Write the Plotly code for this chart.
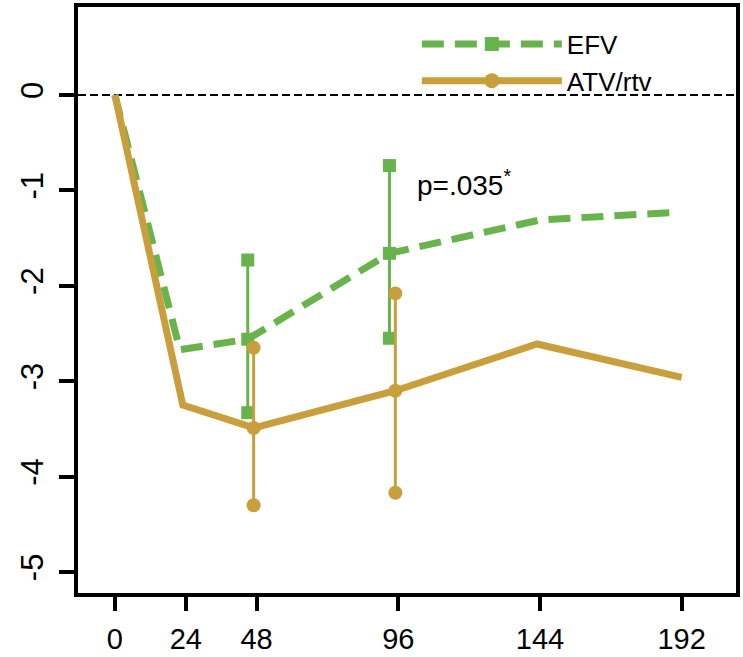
import plotly.graph_objects as go

# ---- data ----
x_ticks = [0, 24, 48, 96, 144, 192]
y_ticks = [0, -1, -2, -3, -4, -5]

efv_x = [0, 22, 45, 93, 144, 190]
efv_y = [0, -2.67, -2.56, -1.66, -1.31, -1.23]

atv_x = [0, 23, 47, 95, 143, 192]
atv_y = [0, -3.25, -3.49, -3.10, -2.61, -2.96]

# error bars (x, low, mid, high)
efv_err_x = [45, 93]
efv_err_low = [-3.33, -2.55]
efv_err_mid = [-2.56, -1.66]
efv_err_high = [-1.73, -0.74]

atv_err_x = [47, 95]
atv_err_low = [-4.30, -4.17]
atv_err_mid = [-3.49, -3.10]
atv_err_high = [-2.65, -2.08]

series_names = ["EFV", "ATV/rtv"]
p_label = "p=.035<sup>*</sup>"
p_pos = (101.5, -0.92)

GREEN = "#69b34c"
GOLD = "#c89f3c"
FONT = "Liberation Sans, Arial, sans-serif"
DASH = "22px,11px"

fig = go.Figure()

# legend entries (no data points, legend only)
fig.add_trace(go.Scatter(
    x=[None], y=[None], mode="lines+markers", name=series_names[0],
    line=dict(color=GREEN, width=7, dash=DASH),
    marker=dict(symbol="square", size=14, color=GREEN),
))
fig.add_trace(go.Scatter(
    x=[None], y=[None], mode="lines+markers", name=series_names[1],
    line=dict(color=GOLD, width=7),
    marker=dict(symbol="circle", size=15, color=GOLD),
))

fig.add_trace(go.Scatter(
    x=efv_x, y=efv_y, mode="lines", name=series_names[0],
    line=dict(color=GREEN, width=7, dash=DASH), showlegend=False,
))
for xi, lo, mi, hi in zip(efv_err_x, efv_err_low, efv_err_mid, efv_err_high):
    fig.add_trace(go.Scatter(
        x=[xi, xi, xi], y=[lo, mi, hi], mode="lines+markers",
        line=dict(color=GREEN, width=3),
        marker=dict(symbol="square", size=13, color=GREEN),
        showlegend=False, hoverinfo="skip",
    ))

fig.add_trace(go.Scatter(
    x=atv_x, y=atv_y, mode="lines", name=series_names[1],
    line=dict(color=GOLD, width=7), showlegend=False,
))
for xi, lo, mi, hi in zip(atv_err_x, atv_err_low, atv_err_mid, atv_err_high):
    fig.add_trace(go.Scatter(
        x=[xi, xi, xi], y=[lo, mi, hi], mode="lines+markers",
        line=dict(color=GOLD, width=3),
        marker=dict(symbol="circle", size=14, color=GOLD),
        showlegend=False, hoverinfo="skip",
    ))

fig.add_hline(y=0, line=dict(color="black", width=2, dash="8px,4px"), layer="below")

fig.add_annotation(
    x=p_pos[0], y=p_pos[1], text=p_label, showarrow=False,
    xanchor="left", yanchor="middle",
    font=dict(family=FONT, size=28, color="black"),
)

fig.update_layout(
    width=743, height=657,
    margin=dict(l=78, r=7, t=7, b=64, autoexpand=False),
    paper_bgcolor="white", plot_bgcolor="white",
    font=dict(family=FONT, color="black"),
    showlegend=True,
    legend=dict(
        x=0.515, y=0.977, xanchor="left", yanchor="top",
        bgcolor="rgba(0,0,0,0)", itemwidth=140,
        font=dict(family=FONT, size=26, color="black"),
        tracegroupgap=0,
    ),
)

fig.update_xaxes(
    range=[-12.5, 210.4], tickvals=x_ticks, ticktext=[str(v) for v in x_ticks],
    showline=True, mirror=True, linecolor="black", linewidth=4,
    ticks="outside", ticklen=14, tickwidth=4, tickcolor="black",
    showgrid=False, zeroline=False, ticklabelstandoff=3, automargin=False,
    tickfont=dict(family=FONT, size=29, color="black"),
)
fig.update_yaxes(
    range=[-5.22, 0.922], tickvals=y_ticks, ticktext=[str(v) for v in y_ticks],
    showline=True, mirror=True, linecolor="black", linewidth=4,
    ticks="outside", ticklen=15, tickwidth=4, tickcolor="black",
    showgrid=False, zeroline=False, tickangle=-90, ticklabelstandoff=4,
    automargin=False,
    tickfont=dict(family=FONT, size=31, color="black"),
)

fig.write_html("out.html")
